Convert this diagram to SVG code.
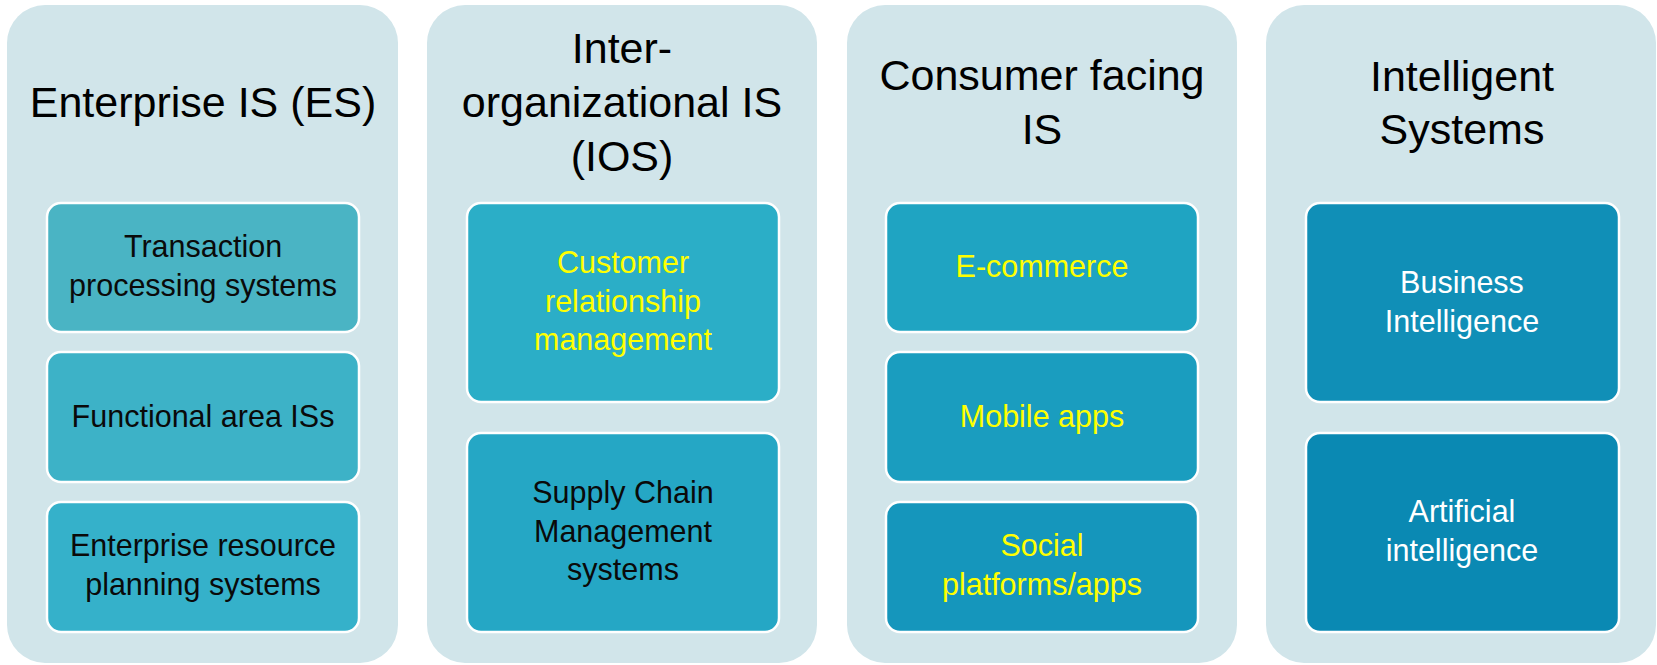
<svg xmlns="http://www.w3.org/2000/svg" width="1657" height="665" viewBox="0 0 1657 665">
<style>
.panel{fill:#D1E5EA}
.box{stroke:#FFFFFF;stroke-width:2.5}
.title{font-family:"Liberation Sans",Arial,sans-serif;font-size:43px;fill:#000000;text-anchor:middle}
.lbl{font-family:"Liberation Sans",Arial,sans-serif;font-size:30.5px;text-anchor:middle}
.dark{fill:#0A0A0A}
.yel{fill:#FFFF00}
.wht{fill:#FFFFFF}
</style>
<rect width="1657" height="665" fill="#FFFFFF"/>
<g id="panel-es">
<rect class="panel" x="7" y="5" width="391" height="658" rx="38"/>
<text class="title" x="203" y="117">Enterprise IS (ES)</text>
</g>
<g id="node-tps">
<rect class="box" x="47" y="203" width="312" height="129" rx="14" fill="#4AB4C4"/>
<text class="lbl dark" x="203" y="257">Transaction</text>
<text class="lbl dark" x="203" y="296">processing systems</text>
</g>
<g id="node-fais">
<rect class="box" x="47" y="352" width="312" height="130" rx="14" fill="#3DB2C7"/>
<text class="lbl dark" x="203" y="427">Functional area ISs</text>
</g>
<g id="node-erp">
<rect class="box" x="47" y="502" width="312" height="130" rx="14" fill="#35B1CA"/>
<text class="lbl dark" x="203" y="556">Enterprise resource</text>
<text class="lbl dark" x="203" y="595">planning systems</text>
</g>
<g id="panel-ios">
<rect class="panel" x="427" y="5" width="390" height="658" rx="38"/>
<text class="title" x="622" y="63">Inter-</text>
<text class="title" x="622" y="117">organizational IS</text>
<text class="title" x="622" y="171">(IOS)</text>
</g>
<g id="node-crm">
<rect class="box" x="467" y="203" width="312" height="199" rx="14" fill="#2BAEC7"/>
<text class="lbl yel" x="623" y="273">Customer</text>
<text class="lbl yel" x="623" y="312">relationship</text>
<text class="lbl yel" x="623" y="350">management</text>
</g>
<g id="node-scm">
<rect class="box" x="467" y="433" width="312" height="199" rx="14" fill="#25A7C5"/>
<text class="lbl dark" x="623" y="503">Supply Chain</text>
<text class="lbl dark" x="623" y="542">Management</text>
<text class="lbl dark" x="623" y="580">systems</text>
</g>
<g id="panel-consumer">
<rect class="panel" x="847" y="5" width="390" height="658" rx="38"/>
<text class="title" x="1042" y="90">Consumer facing</text>
<text class="title" x="1042" y="144">IS</text>
</g>
<g id="node-ecom">
<rect class="box" x="886" y="203" width="312" height="129" rx="14" fill="#1FA4C2"/>
<text class="lbl yel" x="1042" y="277">E-commerce</text>
</g>
<g id="node-mobile">
<rect class="box" x="886" y="352" width="312" height="130" rx="14" fill="#1A9DBF"/>
<text class="lbl yel" x="1042" y="427">Mobile apps</text>
</g>
<g id="node-social">
<rect class="box" x="886" y="502" width="312" height="130" rx="14" fill="#1596BC"/>
<text class="lbl yel" x="1042" y="556">Social</text>
<text class="lbl yel" x="1042" y="595">platforms/apps</text>
</g>
<g id="panel-intelligent">
<rect class="panel" x="1266" y="5" width="390" height="658" rx="38"/>
<text class="title" x="1462" y="91">Intelligent</text>
<text class="title" x="1462" y="144">Systems</text>
</g>
<g id="node-bi">
<rect class="box" x="1306" y="203" width="313" height="199" rx="14" fill="#108FB7"/>
<text class="lbl wht" x="1462" y="293">Business</text>
<text class="lbl wht" x="1462" y="332">Intelligence</text>
</g>
<g id="node-ai">
<rect class="box" x="1306" y="433" width="313" height="199" rx="14" fill="#0A89B3"/>
<text class="lbl wht" x="1462" y="522">Artificial</text>
<text class="lbl wht" x="1462" y="561">intelligence</text>
</g>
<g id="connectors"></g>
</svg>
